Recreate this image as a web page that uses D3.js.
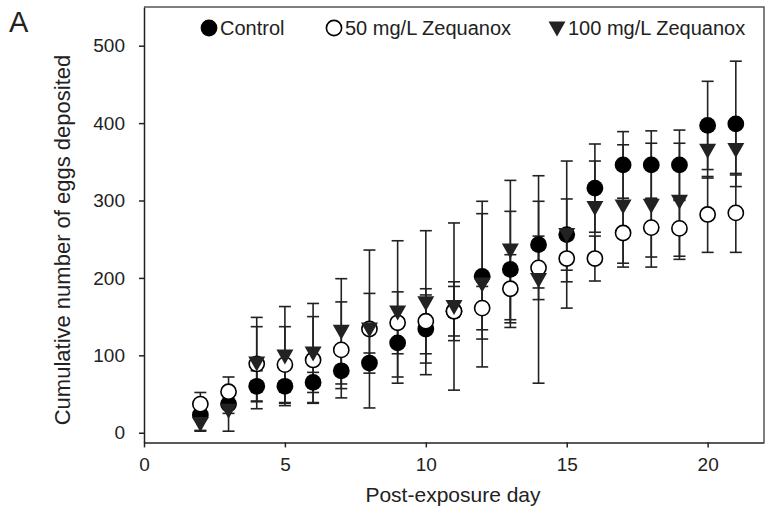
<!DOCTYPE html>
<html>
<head>
<meta charset="utf-8">
<script src="https://cdn.jsdelivr.net/npm/d3@7"></script>
<style>
body{margin:0;background:#fff}
text{font-family:"Liberation Sans",Arial,sans-serif;fill:#222}
</style>
</head>
<body>
<svg width="774" height="512"></svg>
<script>
var days=[2,3,4,5,6,7,8,9,10,11,12,13,14,15,16,17,18,19,20,21]
var control=[23,37,60,60,65,80,90,116,134,157,202,211,243,256,316,346,346,346,397,399]
var controlErr=[20,12,20,22,13,23,13,44,44,38,81,75,56,95,57,43,44,45,57,81]
var z50=[37,53,89,88,94,107,134,142,144,157,161,186,213,225,225,258,265,264,282,284]
var z50Err=[15,19,48,49,56,62,46,40,42,32,28,44,41,30,29,39,38,36,49,51]
var z100=[12,29,90,99,103,131,134,156,168,163,192,236,198,256,291,293,294,299,365,366]
var z100Err=[10,27,59,64,64,68,102,92,93,108,107,90,134,46,60,79,80,75,36,33]
var xTicks=[0,5,10,15,20]
var yTicks=[0,100,200,300,400,500]
var seriesNames=["Control","50 mg/L Zequanox","100 mg/L Zequanox"]

var svg=d3.select("svg")
var x=d3.scaleLinear().domain([0,22]).range([144,764])
var y=d3.scaleLinear().domain([-12.5,550]).range([442.4,7])
var ink="#222"

var series=[
  {name:seriesNames[0],vals:control,err:controlErr,shape:"filled"},
  {name:seriesNames[1],vals:z50,err:z50Err,shape:"open"},
  {name:seriesNames[2],vals:z100,err:z100Err,shape:"tri"}
]

// frame
svg.append("path")
  .attr("d","M"+x(0)+","+y(550)+"H"+x(22)+"V"+y(-12.5))
  .attr("fill","none").attr("stroke","#555").attr("stroke-width",1.5)

var xAxis=svg.append("g").attr("transform","translate(0,"+y(-12.5)+")")
  .call(d3.axisBottom(x).tickValues(xTicks).tickSize(5).tickPadding(10).tickSizeOuter(0))
var yAxis=svg.append("g").attr("transform","translate("+x(0)+",0)")
  .call(d3.axisLeft(y).tickValues(yTicks).tickSize(5).tickPadding(14).tickSizeOuter(0))
svg.selectAll(".domain").attr("stroke",ink).attr("stroke-width",1.5)
svg.selectAll(".tick line").attr("stroke",ink).attr("stroke-width",1.5)
svg.selectAll(".tick text").style("font-size","19px").attr("fill",ink)

// error bars first
series.forEach(s=>{
  var g=svg.append("g")
  days.forEach((d,i)=>{
    var cx=x(d),hi=y(s.vals[i]+s.err[i]),lo=y(s.vals[i]-s.err[i])
    g.append("line").attr("x1",cx).attr("x2",cx).attr("y1",hi).attr("y2",lo)
      .attr("stroke",ink).attr("stroke-width",1.6)
    g.append("line").attr("x1",cx-6).attr("x2",cx+6).attr("y1",hi).attr("y2",hi)
      .attr("stroke",ink).attr("stroke-width",1.6)
    g.append("line").attr("x1",cx-6).attr("x2",cx+6).attr("y1",lo).attr("y2",lo)
      .attr("stroke",ink).attr("stroke-width",1.6)
  })
})

function marker(g,shape,cx,cy){
  if(shape=="filled"){
    g.append("circle").attr("cx",cx).attr("cy",cy).attr("r",8.4).attr("fill","#000")
  }else if(shape=="open"){
    g.append("circle").attr("cx",cx).attr("cy",cy).attr("r",7.6)
      .attr("fill","#fff").attr("stroke","#000").attr("stroke-width",1.6)
  }else{
    g.append("path").attr("d","M"+(cx-8.5)+","+(cy-6.5)+"L"+(cx+8.5)+","+(cy-6.5)+"L"+cx+","+(cy+8.5)+"Z")
      .attr("fill","#222")
  }
}

series.forEach(s=>{
  var g=svg.append("g")
  days.forEach((d,i)=>marker(g,s.shape,x(d),y(s.vals[i])))
})

// legend
var legX=[209,334,557]
series.forEach((s,i)=>{
  var g=svg.append("g")
  marker(g,s.shape,legX[i],28)
  g.append("text").attr("x",legX[i]+11).attr("y",35).text(s.name)
    .style("font-size","20px")
})

svg.append("text").attr("x",453).attr("y",502).attr("text-anchor","middle")
  .style("font-size","21px").text("Post-exposure day")
svg.append("text").attr("transform","translate(70,240) rotate(-90)")
  .attr("text-anchor","middle").style("font-size","22px")
  .text("Cumulative number of eggs deposited")
svg.append("text").attr("x",9).attr("y",32).style("font-size","29px").text("A")
</script>
</body>
</html>
